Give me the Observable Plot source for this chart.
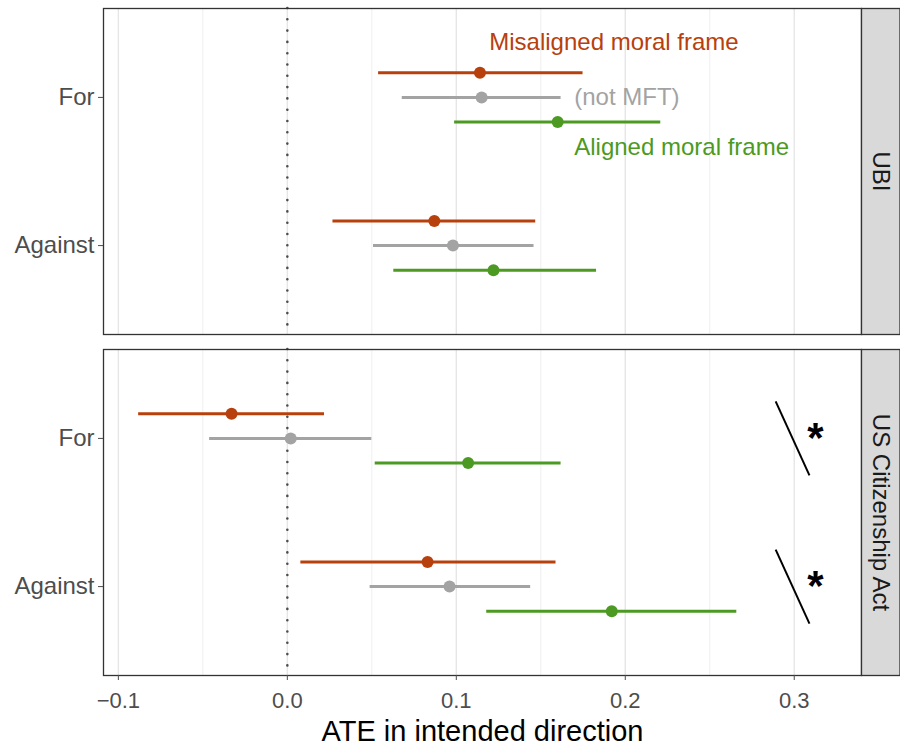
<!DOCTYPE html>
<html>
<head>
<meta charset="utf-8">
<script src="https://cdn.jsdelivr.net/npm/d3@7"></script>
<script src="https://cdn.jsdelivr.net/npm/@observablehq/plot@0.6"></script>
<style>
  html, body { margin: 0; padding: 0; background: #ffffff; }
  #chart svg { display: block; }
</style>
</head>
<body>
<div id="chart"></div>
<script>
// ---- data ----
const issues = ["UBI", "US Citizenship Act"];
const sides = ["For", "Against"];
const frames = ["Misaligned moral frame", "(not MFT)", "Aligned moral frame"];
const frameColors = ["#b8400c", "#a3a3a3", "#4c9a22"];

const rowIssue = ["UBI", "UBI", "UBI", "UBI", "UBI", "UBI",
  "US Citizenship Act", "US Citizenship Act", "US Citizenship Act",
  "US Citizenship Act", "US Citizenship Act", "US Citizenship Act"];
const rowSide = ["For", "For", "For", "Against", "Against", "Against",
  "For", "For", "For", "Against", "Against", "Against"];
const rowFrame = [0, 1, 2, 0, 1, 2, 0, 1, 2, 0, 1, 2].map(i => frames[i]);
const estimate = [0.114, 0.115, 0.160, 0.087, 0.098, 0.122, -0.033, 0.002, 0.107, 0.083, 0.096, 0.192];
const ciLow    = [0.054, 0.068, 0.099, 0.027, 0.051, 0.063, -0.088, -0.046, 0.052, 0.008, 0.049, 0.118];
const ciHigh   = [0.175, 0.162, 0.221, 0.147, 0.146, 0.183, 0.022, 0.050, 0.162, 0.159, 0.144, 0.266];

// frame labels (UBI panel only)
const labelText = frames;
const labelX = [0.1195, 0.1698, 0.1698];
const labelY = [2.371, 2.0, 1.663];

// significance markers (US Citizenship Act panel)
const sigSide = ["For", "Against"];
const sigText = ["*", "*"];

const xTicks = [-0.1, 0.0, 0.1, 0.2, 0.3];
const xMinor = [-0.05, 0.05, 0.15, 0.25];
const xLabel = "ATE in intended direction";

// ---- layout constants ----
const W = 900, H = 747;
const mL = 103, mR = 39, mT = 8, mB = 72;
const plotW = W - mL - mR;
const dodge = [1 / 6, 0, -1 / 6];
const sideY = s => sides.length - sides.indexOf(s);

const rows = estimate.map((e, i) => ({
  issue: rowIssue[i], side: rowSide[i], frame: rowFrame[i],
  y: sideY(rowSide[i]) + dodge[frames.indexOf(rowFrame[i])],
  est: e, lo: ciLow[i], hi: ciHigh[i]
}));
const labels = labelText.map((t, i) => ({issue: issues[0], text: t, frame: t, x: labelX[i], y: labelY[i]}));
const sig = sigSide.map((s, i) => ({
  issue: issues[1], text: sigText[i],
  x1: 0.289, x2: 0.309, y1: sideY(s) + 0.25, y2: sideY(s) - 0.25,
  sx: 0.3125, sy: sideY(s)
}));
const strips = issues.map(f => ({issue: f}));

const font = "'Liberation Sans', Arial, Helvetica, sans-serif";

const chart = Plot.plot({
  width: W, height: H,
  marginLeft: mL, marginRight: mR, marginTop: mT, marginBottom: mB,
  style: {fontFamily: font, background: "#ffffff", color: "#333"},
  x: {domain: [-0.1088, 0.3398]},
  y: {domain: [0.4, 2.6]},
  fy: {domain: issues, paddingInner: 0.044, paddingOuter: 0, axis: null},
  color: {domain: frames, range: frameColors},
  marks: [
    Plot.ruleX(xMinor, {stroke: "#ededed", strokeWidth: 0.9}),
    Plot.ruleX(xTicks, {stroke: "#e6e6e6", strokeWidth: 1.4}),
    Plot.ruleX([0], {stroke: "#4d4d4d", strokeWidth: 2.6, strokeDasharray: "0,11.3", strokeLinecap: "round"}),
    Plot.frame({stroke: "#333333", strokeWidth: 1.3}),
    Plot.frame({fill: "#d9d9d9", stroke: "#333333", strokeWidth: 1.3, insetLeft: plotW, insetRight: -mR + 0.5}),
    Plot.ruleY(rows, {fy: "issue", y: "y", x1: "lo", x2: "hi", stroke: "frame", strokeWidth: 3}),
    Plot.dot(rows, {fy: "issue", x: "est", y: "y", fill: "frame", r: 6}),
    Plot.text(labels, {fy: "issue", x: "x", y: "y", text: "text", fill: "frame", textAnchor: "start", fontSize: 24}),
    Plot.link(sig, {fy: "issue", x1: "x1", x2: "x2", y1: "y1", y2: "y2", stroke: "#000", strokeWidth: 2}),
    Plot.text(sig, {fy: "issue", x: "sx", y: "sy", text: "text", fill: "#000", fontSize: 42, fontWeight: "bold"}),
    Plot.text(strips, {fy: "issue", text: "issue", frameAnchor: "right", textAnchor: "middle", dx: mR / 2, rotate: 90, fontSize: 24, fill: "#1a1a1a"}),
    Plot.axisX({ticks: xTicks, tickFormat: d3.format(".1f"), tickSize: 5, tickPadding: 12, fontSize: 22, color: "#4d4d4d", label: null}),
    Plot.text([{issue: issues[1], t: xLabel}], {fy: "issue", text: "t", frameAnchor: "bottom", dy: 65, fontSize: 29, fill: "#000"}),
    Plot.axisY({ticks: [1, 2], tickFormat: d => sides[sides.length - d], tickSize: 5, tickPadding: 4, fontSize: 24, color: "#4d4d4d", label: null})
  ]
});
document.getElementById("chart").appendChild(chart);
</script>
</body>
</html>
